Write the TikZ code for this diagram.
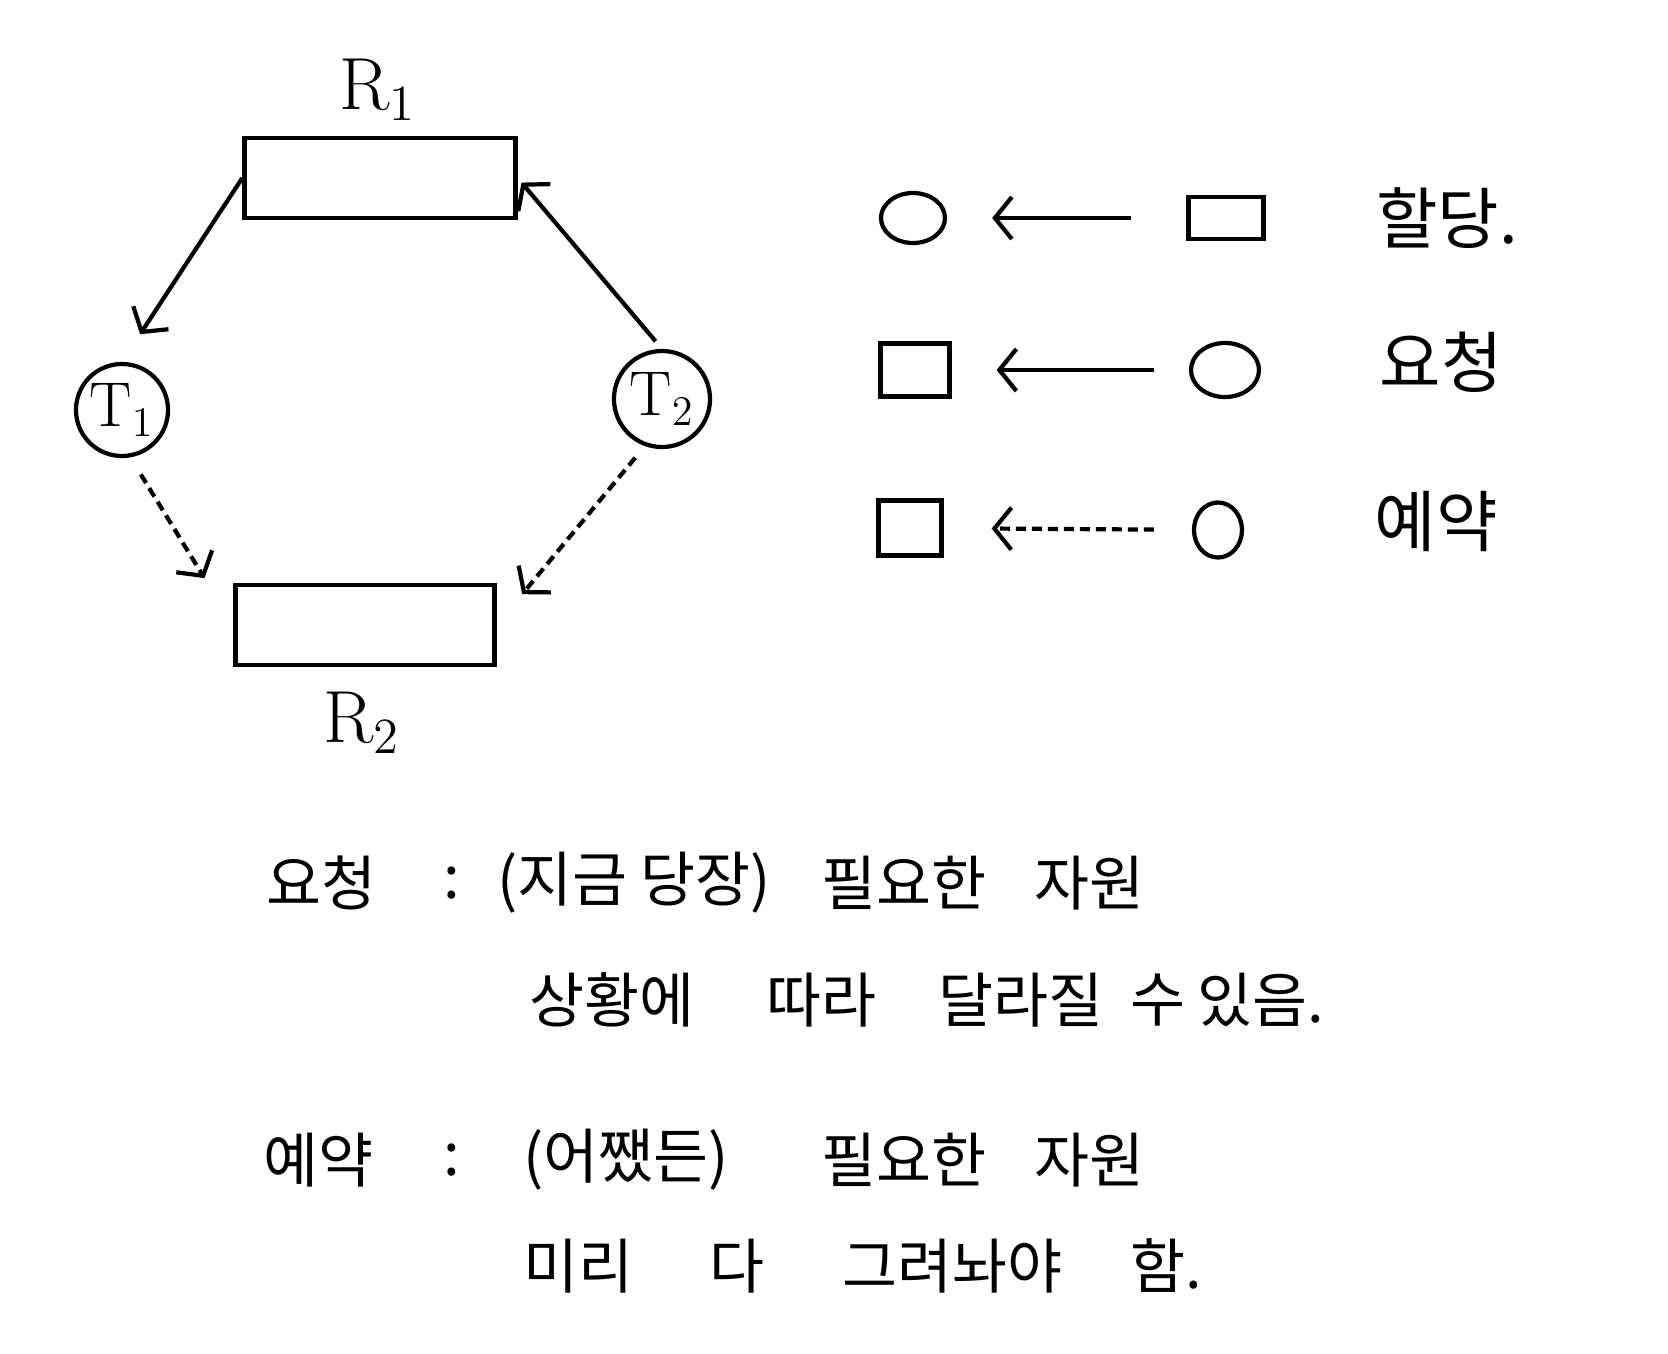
\documentclass[tikz,border=0pt]{standalone}
\usepackage{fontspec}
\newfontfamily\kr{Noto Sans CJK KR}
\usetikzlibrary{arrows.meta,shapes.geometric}
\definecolor{ink}{HTML}{000000}

\begin{document}
\begin{tikzpicture}[x=0.01cm,y=-0.01cm,line width=1.2pt,
    res/.style={draw=ink,rectangle,inner sep=0pt},
    thr/.style={draw=ink,circle,inner sep=0pt,font=\fontsize{18}{20}\selectfont},
    txt/.style={anchor=west,inner sep=0pt,font=\kr\fontsize{17}{20}\selectfont},
    alloc/.style={draw=ink,-{Straight Barb[length=0.17cm,width=0.42cm]}},
    resv/.style={alloc,dash pattern=on 0.1cm off 0.06cm}]
        \fill[white] (0,0) rectangle (1668,1354);
        % graph
        \node[res,minimum width=2.71cm,minimum height=0.8cm] (R1) at (380,178) {};
        \node[res,minimum width=2.59cm,minimum height=0.8cm] (R2) at (365,625) {};
        \node[font=\fontsize{21}{24}\selectfont] (R1l) at (378,90) {$\mathrm{R}_1$};
        \node[font=\fontsize{21}{24}\selectfont] (R2l) at (362,723) {$\mathrm{R}_2$};
        \node[thr,minimum size=0.92cm] (T1) at (122,410) {$\mathrm{T}_1$};
        \node[thr,minimum size=0.96cm] (T2) at (662,399) {$\mathrm{T}_2$};
        \draw[alloc,shorten >=0.33cm] (R1.west) -- (T1.north);
        \draw[alloc,shorten <=0.1cm,shorten >=0.06cm] (T2.north) -- (R1.east);
        \draw[resv,shorten <=0.2cm,shorten >=0.55cm] (T1.-80) -- (R2.west);
        \draw[resv,shorten <=0.15cm,shorten >=0.4cm] (T2.-110) -- (R2.east);
        % legend
        \node[draw=ink,ellipse,minimum width=0.64cm,minimum height=0.5cm] (c1) at (913,218) {};
        \node[res,minimum width=0.75cm,minimum height=0.42cm] (s1) at (1226,218) {};
        \node[res,minimum width=0.69cm,minimum height=0.53cm] (s2) at (915,370) {};
        \node[draw=ink,ellipse,minimum width=0.68cm,minimum height=0.54cm] (c2) at (1225,370) {};
        \node[res,minimum width=0.63cm,minimum height=0.55cm] (s3) at (910,528) {};
        \node[draw=ink,ellipse,minimum width=0.48cm,minimum height=0.55cm] (c3) at (1218,530) {};
        \draw[alloc,shorten <=0.55cm,shorten >=0.45cm] (s1) -- (c1);
        \draw[alloc,shorten <=0.35cm,shorten >=0.45cm] (c2) -- (s2);
        \draw[resv,shorten <=0.38cm,shorten >=0.48cm] (c3) -- (s3);
        \node[txt,anchor=center,font=\kr\fontsize{19}{22}\selectfont] (k1) at (1447,218) {할당.};
        \node[txt,anchor=center,font=\kr\fontsize{19}{22}\selectfont] (k2) at (1441,362) {요청};
        \node[txt,anchor=center,font=\kr\fontsize{19}{22}\selectfont] (k3) at (1436,521) {예약};
        % notes
        \node[txt] (n1a) at (264,883) {요청};
        \node[txt] (n1b) at (441,883) {:};
        \node[txt] (n1c) at (495,883) {(지금 당장)};
        \node[txt] (n1d) at (819,883) {필요한};
        \node[txt] (n1e) at (1032,883) {자원};
        \node[txt] (n2a) at (527,1000) {상황에};
        \node[txt] (n2b) at (764,1000) {따라};
        \node[txt] (n2c) at (936,1000) {달라질};
        \node[txt] (n2d) at (1128,1000) {수};
        \node[txt] (n2e) at (1195,1000) {있음.};
        \node[txt] (n3a) at (261,1160) {예약};
        \node[txt] (n3b) at (441,1160) {:};
        \node[txt] (n3c) at (521,1160) {(어쨌든)};
        \node[txt] (n3d) at (819,1160) {필요한};
        \node[txt] (n3e) at (1032,1160) {자원};
        \node[txt] (n4a) at (521,1266) {미리};
        \node[txt] (n4b) at (707,1266) {다};
        \node[txt] (n4c) at (840,1266) {그려놔야};
        \node[txt] (n4d) at (1128,1266) {함.};
      \end{tikzpicture}
\end{document}
